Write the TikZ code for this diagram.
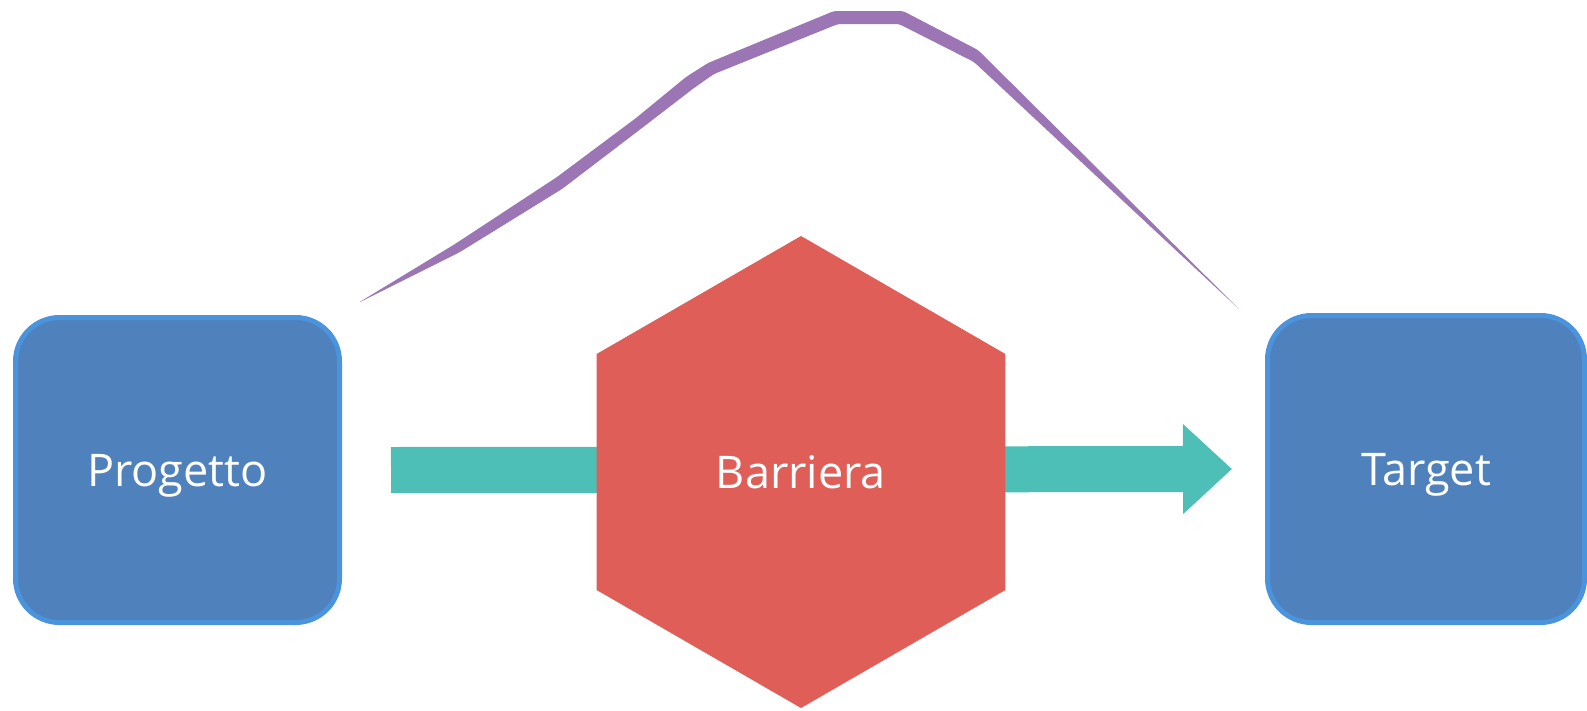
\documentclass[tikz,border=0pt]{standalone}
\usepackage{fontspec}
\setmainfont{Open Sans}
\usetikzlibrary{shapes.geometric,arrows.meta}
\definecolor{boxblue}{HTML}{4F81BD}
\definecolor{boxedge}{HTML}{4A93DD}
\definecolor{hexred}{HTML}{DF5F58}
\definecolor{flowteal}{HTML}{4DBFB6}
\definecolor{arcpurple}{HTML}{9C76B4}
\begin{document}
\begin{tikzpicture}[x=1pt,y=-1pt,
  labeltext/.style={text=white, font=\fontsize{45}{54}\selectfont, text height=33pt, text depth=0pt},
  card/.style={labeltext, fill=boxblue, draw=boxedge, line width=5pt, rounded corners=44pt, inner sep=0pt},
  hexbox/.style={labeltext, regular polygon, regular polygon sides=6, shape border rotate=30, minimum size=472pt, fill=hexred, inner sep=0pt},
  flow/.style={draw=flowteal, line width=46pt, -{Triangle[length=49pt,width=87pt]}},
  arcband/.style={fill=arcpurple, rounded corners=3pt}
]
\useasboundingbox (0,0) rectangle (1587,710);
% purple arc
\fill[arcband] (358,303) -- (455,244) -- (557,177) -- (636,118) -- (686,77) -- (708,63)
  -- (834,11) -- (903,11) -- (978,50) -- (1240,310)
  -- (974,62) -- (899,24) -- (838,24) -- (714,74) -- (694,88) -- (642,128)
  -- (562,189) -- (460,252) -- cycle;
% boxes
\node[card, minimum width=324pt, minimum height=305pt] (prog) at (177.5,470) {Progetto};
\node[card, minimum width=317pt, minimum height=307pt] (targ) at (1426,469) {Target};
% arrow
\draw[flow] ([xshift=49pt]prog.east) -- ([xshift=-33pt]targ.west);
% barrier
\node[hexbox] (bar) at (801,472) {Barriera};
\end{tikzpicture}
\end{document}
